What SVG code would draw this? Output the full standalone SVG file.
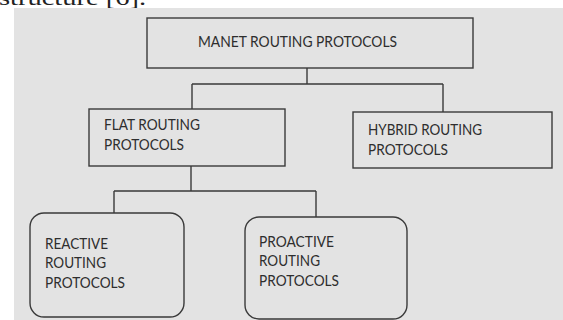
<svg xmlns="http://www.w3.org/2000/svg" width="563" height="320" viewBox="0 0 563 320">
<style>
.box{fill:#e3e3e3;stroke:#3a3a3a;stroke-width:1.4}
.lbl{font-family:Lato,"Open Sans","Liberation Sans",sans-serif;font-size:15px;fill:#2e2e2e}
.con{fill:none;stroke:#3a3a3a;stroke-width:1.4}
</style>
<rect x="0" y="0" width="563" height="320" fill="#ffffff"/>
<text x="-1" y="5" font-family="'Liberation Serif',serif" font-size="22" fill="#222" textLength="147" lengthAdjust="spacingAndGlyphs">structure [6].</text>
<rect x="14" y="8" width="549" height="312" fill="#e3e3e3"/>
<g id="connectors">
<path class="con" d="M307,68 V84 M192,84 H443 M192,84 V109 M443,84 V112"/>
<path class="con" d="M191,166 V191 M114,191 H316 M114,191 V213 M316,191 V217"/>
</g>
<g id="manet">
<rect class="box" x="147" y="18" width="326" height="50"/>
<text class="lbl" x="198" y="47" textLength="199" lengthAdjust="spacingAndGlyphs">MANET ROUTING PROTOCOLS</text>
</g>
<g id="flat">
<rect class="box" x="89" y="109" width="196" height="57"/>
<text class="lbl" x="104" y="130" textLength="96" lengthAdjust="spacingAndGlyphs">FLAT ROUTING</text>
<text class="lbl" x="104" y="150" textLength="80" lengthAdjust="spacingAndGlyphs">PROTOCOLS</text>
</g>
<g id="hybrid">
<rect class="box" x="353" y="112" width="199" height="56"/>
<text class="lbl" x="368" y="135" textLength="114" lengthAdjust="spacingAndGlyphs">HYBRID ROUTING</text>
<text class="lbl" x="368" y="155" textLength="80" lengthAdjust="spacingAndGlyphs">PROTOCOLS</text>
</g>
<g id="reactive">
<rect class="box" x="30" y="213" width="154" height="104" rx="14" ry="14"/>
<text class="lbl" x="45" y="249" textLength="63" lengthAdjust="spacingAndGlyphs">REACTIVE</text>
<text class="lbl" x="45" y="268" textLength="61" lengthAdjust="spacingAndGlyphs">ROUTING</text>
<text class="lbl" x="45" y="288" textLength="80" lengthAdjust="spacingAndGlyphs">PROTOCOLS</text>
</g>
<g id="proactive">
<rect class="box" x="245" y="217" width="162" height="102" rx="14" ry="14"/>
<text class="lbl" x="259" y="247" textLength="75" lengthAdjust="spacingAndGlyphs">PROACTIVE</text>
<text class="lbl" x="259" y="266" textLength="61" lengthAdjust="spacingAndGlyphs">ROUTING</text>
<text class="lbl" x="259" y="286" textLength="80" lengthAdjust="spacingAndGlyphs">PROTOCOLS</text>
</g>
</svg>
